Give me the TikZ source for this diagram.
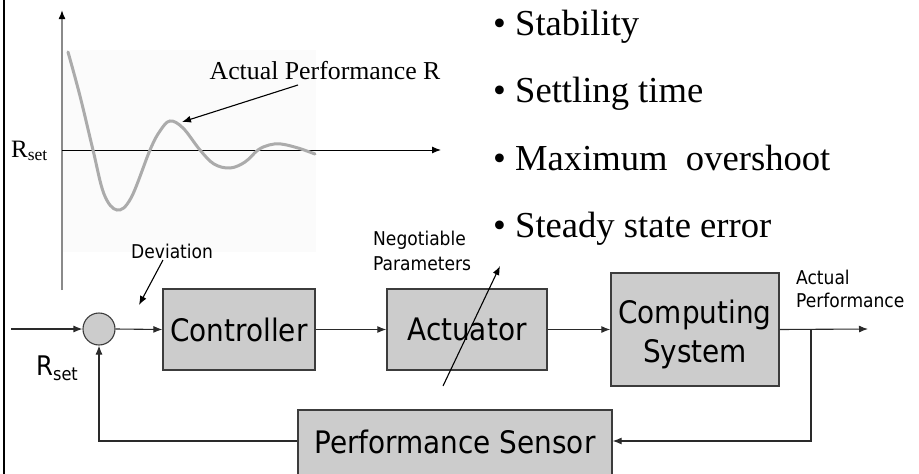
\documentclass[tikz,border=0pt]{standalone}
\usepackage{fontspec}
\setmainfont{Liberation Serif}
\newfontfamily\tah{DejaVu Sans Condensed}
\usetikzlibrary{arrows.meta}
\definecolor{boxfill}{HTML}{CCCCCC}
\definecolor{boxline}{HTML}{3C3C3C}
\definecolor{wire}{HTML}{2A2A2A}
\definecolor{curvegray}{HTML}{ABABAB}
\definecolor{axisgray}{HTML}{8A8A8A}
\tikzset{
  tip/.style={-{Latex[length=9pt,width=7pt]}},
  wireline/.style={draw=wire, line width=1.1pt, tip},
  block/.style={draw=boxline, line width=1.3pt, fill=boxfill, inner sep=0pt,
    font=\tah\fontsize{31}{39}\selectfont},
  smalllabel/.style={inner sep=0pt, font=\tah\fontsize{19}{25}\selectfont},
  bullettext/.style={inner sep=0pt, anchor=base west, font=\fontsize{36.6}{40}\selectfont},
}
\begin{document}
\begin{tikzpicture}[x=1pt,y=-1pt]
  \useasboundingbox (0,0) rectangle (919,474);
  % frame edge on the left
  \draw[black, line width=2pt] (4,-2) -- (4,476);

  % ---------- step response plot ----------
  \fill[black!1.5] (63,50) rectangle (316,252);
  \coordinate (yaxbot) at (62,290);
  \coordinate (yaxtop) at (62,10);
  \coordinate (xaxl) at (62,150);
  \coordinate (xaxr) at (441,150);
  \draw[axisgray, line width=1.6pt, -{Latex[length=9pt,width=7pt,color=black]}] (yaxbot) -- (yaxtop);
  \draw[black, line width=1pt, tip] (xaxl) -- (xaxr);
  \draw[curvegray, line width=3pt, line cap=round] plot[smooth, tension=0.6] coordinates {
    (68,52) (80,96) (93,150) (104,194) (117,210) (131,198) (150,150) (160,131)
    (170,121) (183,128) (200,150) (214,164) (230,168) (245,162) (258,150)
    (269,145) (281,144) (298,148) (315,154)};
  \node[inner sep=0pt, anchor=base, font=\fontsize{25.8}{28}\selectfont] (perfR) at (325,79) {Actual Performance R};
  \coordinate (perfRtail) at (298,85);
  \coordinate (perfRtip) at (182,122);
  \draw[black, line width=1.1pt, tip] (perfRtail) -- (perfRtip);
  \node[inner sep=0pt, anchor=base west, font=\fontsize{25}{28}\selectfont] (rsetplot) at (11,157) {R\textsubscript{set}};

  % ---------- performance metrics ----------
  \node[bullettext] (b1) at (493,35) {\textbullet\ Stability};
  \node[bullettext] (b2) at (493,102) {\textbullet\ Settling time};
  \node[bullettext] (b3) at (493,170) {\textbullet\ Maximum\ \ overshoot};
  \node[bullettext] (b4) at (493,237) {\textbullet\ Steady state error};

  % ---------- feedback loop ----------
  \node[circle, draw=boxline, line width=1.1pt, fill=boxfill, minimum size=32pt, inner sep=0pt] (sum) at (99,329) {};
  \node[block, minimum width=152pt, minimum height=81pt] (ctrl) at (239,329.5) {Controller};
  \node[block, minimum width=160pt, minimum height=81pt] (act) at (467,329.5) {Actuator};
  \node[block, minimum width=168pt, minimum height=113pt,
        label={[font=\tah\fontsize{31}{39}\selectfont, align=center, inner sep=0pt, yshift=-5pt]center:Computing\\System}] (comp) at (695,329.5) {};
  \node[block, minimum width=314pt, minimum height=70pt, text height=23pt, text depth=7pt] (sens) at (455,445) {Performance Sensor};

  \coordinate (in) at (11,329);
  \coordinate (out) at (868,329);
  \coordinate (branch) at (811,329);
  \coordinate (fbright) at (811,441);
  \coordinate (fbleft) at (99,441);

  \draw[wireline] (in) -- (sum.west);
  \draw[wireline] (sum.east) -- (ctrl.west);
  \draw[wireline] (ctrl.east) -- (act.west);
  \draw[wireline] (act.east) -- (comp.west);
  \draw[wireline] (comp.east) -- (out);
  \draw[wireline] (branch) -- (fbright) -- (fbright -| sens.east);
  \draw[wireline] (fbleft -| sens.west) -- (fbleft) -- (sum.south);

  % labels around the loop
  \node[inner sep=0pt, anchor=base west, font=\tah\fontsize{27}{30}\selectfont] (rset) at (36,375) {R\raisebox{-5pt}{\fontsize{18}{20}\selectfont set}};
  \node[smalllabel, anchor=base west] (dev) at (131,258) {Deviation};
  \coordinate (devtail) at (163,260);
  \coordinate (devtip) at (139,305);
  \draw[black, line width=1.1pt, tip] (devtail) -- (devtip);

  \node[smalllabel, anchor=north west, align=left] (nego) at (373,231) {Negotiable\\Parameters};
  \coordinate (negotail) at (443,386);
  \coordinate (negotip) at (500,266);
  \draw[black, line width=1.1pt, tip] (negotail) -- (negotip);

  \node[inner sep=0pt, anchor=north west, align=left, font=\tah\fontsize{19}{23}\selectfont] (actperf) at (796,270) {Actual\\Performance};
\end{tikzpicture}
\end{document}
